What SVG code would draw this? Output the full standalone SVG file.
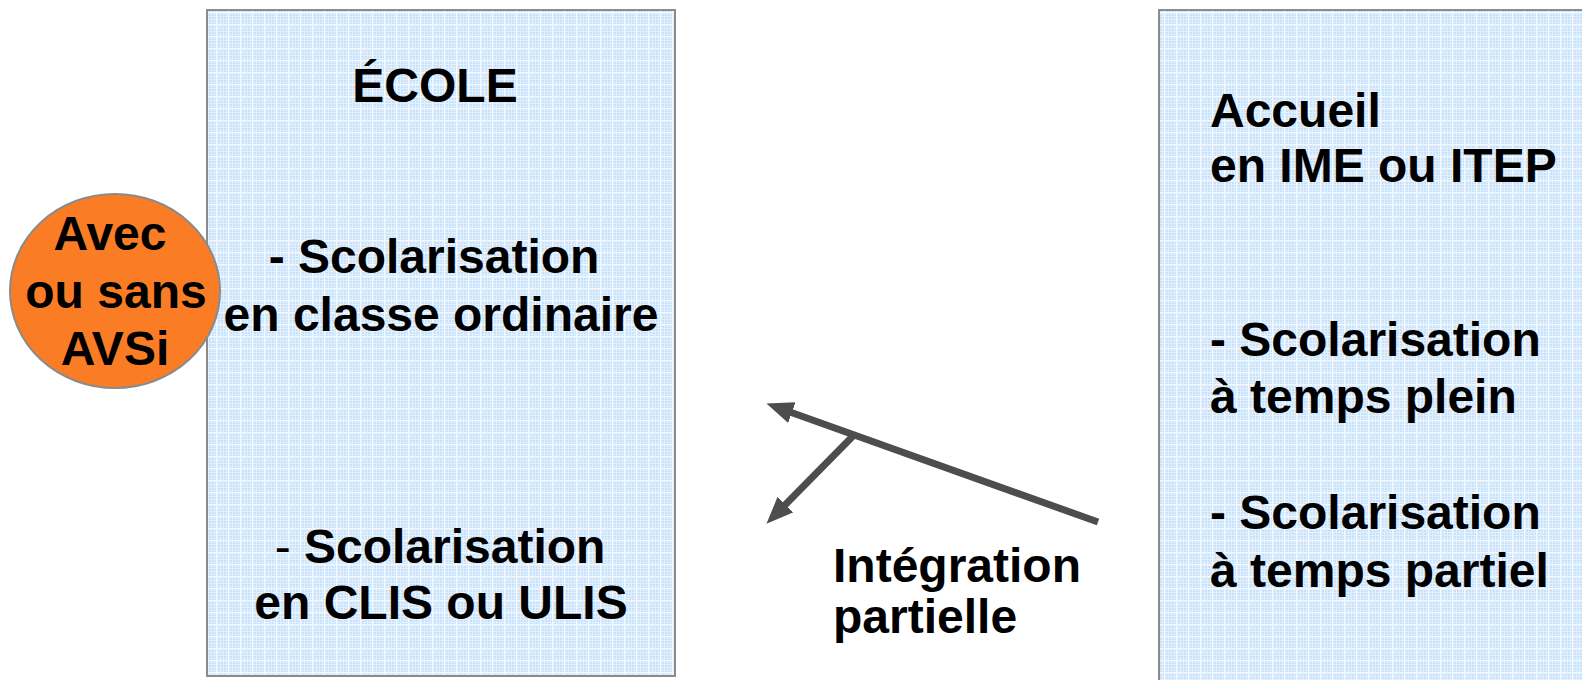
<svg xmlns="http://www.w3.org/2000/svg" width="1582" height="680" viewBox="0 0 1582 680">
<defs>
<pattern id="grid" width="12" height="12" patternUnits="userSpaceOnUse">
<rect width="12" height="12" fill="#c9e2fb"/>
<path d="M1.5,0V12M4.5,0V12M7.5,0V12M10.5,0V12M0,1.5H12M0,4.5H12M0,7.5H12M0,10.5H12" stroke="#e2effd" stroke-width="1"/>
<path d="M0,0.5H12M0.5,0V12" stroke="#f4f9ff" stroke-width="1"/>
</pattern>
<marker id="ah" markerUnits="userSpaceOnUse" markerWidth="28" markerHeight="24" refX="2" refY="12" orient="auto">
<path d="M0,1 L27,12 L0,23 z" fill="#4d4d4d"/>
</marker>
</defs>
<style>
.box{fill:url(#grid);stroke:#8c8c8c;stroke-width:2}
.t{font-family:"Liberation Sans",Arial,sans-serif;font-weight:bold;font-size:48px;fill:#000}
.c{text-anchor:middle}
.arr{stroke:#4d4d4d;stroke-width:7;fill:none;marker-end:url(#ah)}
</style>
<rect width="1582" height="680" fill="#fff"/>
<g id="ecole">
<rect class="box" x="207" y="10" width="468" height="666"/>
<text class="t c" x="435" y="102">ÉCOLE</text>
<text class="t c" x="434" y="273">- Scolarisation</text>
<text class="t c" x="441" y="331">en classe ordinaire</text>
<text class="t c" x="440" y="563"><tspan font-weight="normal">-</tspan> Scolarisation</text>
<text class="t c" x="441" y="619">en CLIS ou ULIS</text>
</g>
<g id="ime">
<rect class="box" x="1159" y="10" width="440" height="690"/>
<text class="t" x="1210" y="127">Accueil</text>
<text class="t" x="1210" y="182">en IME ou ITEP</text>
<text class="t" x="1210" y="356">- Scolarisation</text>
<text class="t" x="1210" y="413">à temps plein</text>
<text class="t" x="1210" y="529">- Scolarisation</text>
<text class="t" x="1210" y="587">à temps partiel</text>
</g>
<g id="avsi">
<ellipse cx="115" cy="291" rx="105" ry="97" fill="#fa7d26" stroke="#8a8a8a" stroke-width="2"/>
<text class="t c" x="110" y="250">Avec</text>
<text class="t c" x="116" y="308">ou sans</text>
<text class="t c" x="115" y="365">AVSi</text>
</g>
<g id="integration">
<text class="t" x="833" y="582">Intégration</text>
<text class="t" x="833" y="633">partielle</text>
</g>
<g id="connectors">
<line class="arr" x1="1098" y1="522" x2="790" y2="412"/>
<line class="arr" x1="853" y1="436" x2="784" y2="506"/>
</g>
</svg>
